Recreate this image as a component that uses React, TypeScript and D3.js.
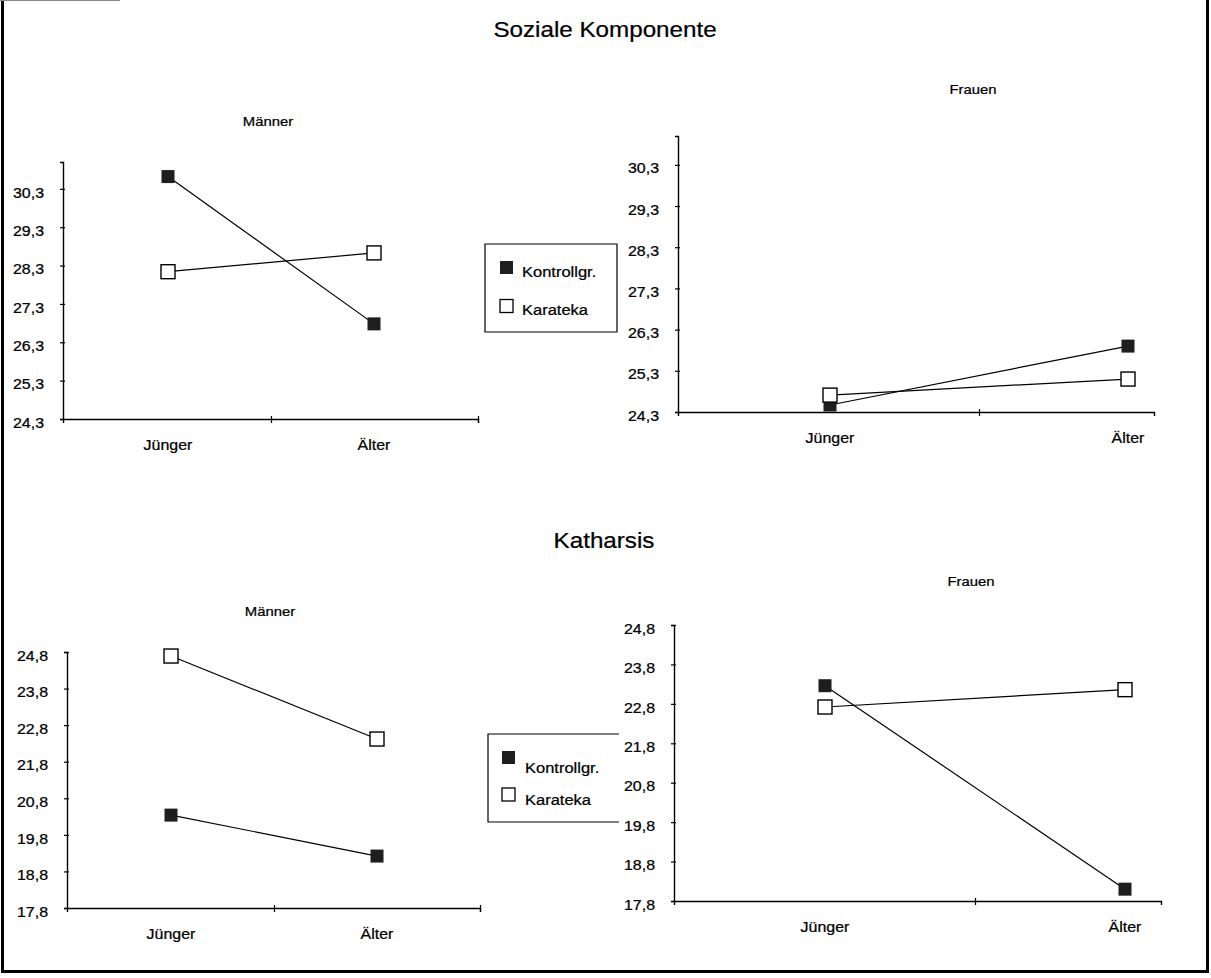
import React, { useEffect, useRef } from "react";
import * as d3 from "d3";

// categories + groups
const categories = ["Jünger", "Älter"];
const groups = ["Kontrollgr.", "Karateka"];

// tick labels of the two scales
const sozialTicks = [24.3, 25.3, 26.3, 27.3, 28.3, 29.3, 30.3];
const katharsisTicks = [17.8, 18.8, 19.8, 20.8, 21.8, 22.8, 23.8, 24.8];

// values
const sozialMaennerKontroll = [30.62, 26.78];
const sozialMaennerKarateka = [28.14, 28.63];
const sozialFrauenKontroll = [24.47, 25.9];
const sozialFrauenKarateka = [24.71, 25.1];
const katharsisMaennerKontroll = [20.34, 19.22];
const katharsisMaennerKarateka = [24.69, 22.42];
const katharsisFrauenKontroll = [23.26, 18.1];
const katharsisFrauenKarateka = [22.72, 23.16];

const SX = 1.1; // the scan is a bit wide, stretch text horizontally
const FONT = "Arial, 'Liberation Sans', sans-serif";
const INK = "#000";

const fmt = (d: number) => d.toFixed(1).replace(".", ",");

const panels = [
  {
    label: "Männer", labelX: 268, labelY: 126,
    left: 63, right: 478, c0: 168, c1: 374, top: 162, bottom: 419,
    domain: [24.3, 31.0], ticks: sozialTicks, endTick: true,
    kontroll: sozialMaennerKontroll, karateka: sozialMaennerKarateka,
  },
  {
    label: "Frauen", labelX: 973, labelY: 94,
    left: 678, right: 1154, c0: 830, c1: 1128, top: 136, bottom: 412,
    domain: [24.3, 31.0], ticks: sozialTicks, endTick: false,
    kontroll: sozialFrauenKontroll, karateka: sozialFrauenKarateka,
  },
  {
    label: "Männer", labelX: 270, labelY: 616,
    left: 67, right: 480, c0: 171, c1: 377, top: 652, bottom: 908,
    domain: [17.8, 24.8], ticks: katharsisTicks, endTick: true,
    kontroll: katharsisMaennerKontroll, karateka: katharsisMaennerKarateka,
  },
  {
    label: "Frauen", labelX: 971, labelY: 586,
    left: 674, right: 1161, c0: 825, c1: 1125, top: 625, bottom: 901,
    domain: [17.8, 24.8], ticks: katharsisTicks, endTick: false,
    kontroll: katharsisFrauenKontroll, karateka: katharsisFrauenKarateka,
  },
];

const legends = [
  { x0: 485, y0: 244, x1: 617, y1: 332, closed: true, sq: 500, tx: 522, rows: [267.5, 306], base: [277, 315] },
  { x0: 488, y0: 734, x1: 619, y1: 822, closed: false, sq: 502, tx: 525, rows: [757.5, 794.5], base: [773, 805] },
];

const App = () => {
  const svgRef = useRef<SVGSVGElement | null>(null);

  useEffect(() => {
    const svg = d3.select(svgRef.current);
    svg.selectAll("*").remove();

    const addText = (g: any, x: number, y: number, txt: string, size: number, anchor = "middle") =>
      g.append("text")
        .attr("transform", `translate(${x},${y}) scale(${SX},1)`)
        .attr("text-anchor", anchor)
        .attr("font-family", FONT)
        .attr("font-size", size)
        .attr("fill", INK)
        .attr("stroke", INK)
        .attr("stroke-width", 0.25)
        .text(txt);

    // frame
    svg.append("line").attr("x1", 2.5).attr("x2", 2.5).attr("y1", 0).attr("y2", 973)
      .attr("stroke", "#000").attr("stroke-width", 3);
    svg.append("line").attr("x1", 1207.5).attr("x2", 1207.5).attr("y1", 0).attr("y2", 973)
      .attr("stroke", "#000").attr("stroke-width", 3);
    svg.append("line").attr("x1", 1).attr("x2", 1209).attr("y1", 971.5).attr("y2", 971.5)
      .attr("stroke", "#000").attr("stroke-width", 3);
    svg.append("line").attr("x1", 0).attr("x2", 120).attr("y1", 0.5).attr("y2", 0.5)
      .attr("stroke", "#888").attr("stroke-width", 1);

    // section titles
    addText(svg, 605, 37, "Soziale Komponente", 22);
    addText(svg, 604, 548, "Katharsis", 22);

    panels.forEach((p) => {
      const g = svg.append("g");
      const y = d3.scaleLinear().domain(p.domain).range([p.bottom, p.top]);
      const x = d3.scaleLinear().domain([0, 1]).range([p.c0, p.c1]);
      const xAxisScale = d3.scaleLinear()
        .domain([x.invert(p.left), x.invert(p.right)])
        .range([p.left, p.right]);

      addText(g, p.labelX, p.labelY, p.label, 13.5);

      // y axis
      const ya = g.append("g")
        .attr("transform", `translate(${p.left},0)`)
        .call(d3.axisLeft(y).tickValues(p.ticks).tickFormat(fmt as any).tickSizeOuter(0).tickSize(3));
      ya.select(".domain").attr("stroke", INK).attr("stroke-width", 1.4);
      ya.selectAll(".tick line").attr("x1", 2).attr("x2", -3).attr("stroke", INK).attr("stroke-width", 1.2);
      ya.selectAll(".tick text")
        .attr("x", null)
        .attr("transform", `translate(-19,3.5) scale(${SX},1)`)
        .attr("font-family", FONT)
        .attr("font-size", 14.5)
        .attr("fill", INK)
        .attr("stroke", INK)
        .attr("stroke-width", 0.25);

      // x axis
      const xt = p.endTick ? [0.5, x.invert(p.right)] : [0.5];
      const xa = g.append("g")
        .attr("transform", `translate(0,${p.bottom})`)
        .call(d3.axisBottom(xAxisScale).tickValues(xt).tickFormat(() => "").tickSizeOuter(0).tickSize(4));
      xa.select(".domain").attr("stroke", INK).attr("stroke-width", 1.4);
      xa.selectAll(".tick line").attr("y1", -3).attr("y2", 4).attr("stroke", INK).attr("stroke-width", 1.2);

      categories.forEach((c, i) => addText(g, x(i), p.bottom + 31, c, 14.5));

      const line = d3.line<number>().x((_, i) => x(i)).y((d) => y(d));
      g.append("path").datum(p.kontroll).attr("d", line)
        .attr("fill", "none").attr("stroke", INK).attr("stroke-width", 1.2);
      g.append("path").datum(p.karateka).attr("d", line)
        .attr("fill", "none").attr("stroke", INK).attr("stroke-width", 1.2);

      g.selectAll(".kon").data(p.kontroll).enter().append("rect")
        .attr("x", (_, i) => x(i) - 6.5).attr("y", (d) => y(d) - 6.5)
        .attr("width", 13).attr("height", 13).attr("fill", "#1e1e1e");
      g.selectAll(".kar").data(p.karateka).enter().append("rect")
        .attr("x", (_, i) => x(i) - 7).attr("y", (d) => y(d) - 7)
        .attr("width", 14).attr("height", 14)
        .attr("fill", "#fff").attr("stroke", INK).attr("stroke-width", 1.4);
    });

    // legends
    legends.forEach((l) => {
      const g = svg.append("g");
      const d = l.closed
        ? `M${l.x0},${l.y0}H${l.x1}V${l.y1}H${l.x0}Z`
        : `M${l.x1},${l.y0}H${l.x0}V${l.y1}H${l.x1}`;
      g.append("path").attr("d", d).attr("fill", l.closed ? "#fff" : "none")
        .attr("stroke", INK).attr("stroke-width", 1.2);
      groups.forEach((name, i) => {
        const r = g.append("rect")
          .attr("x", l.sq).attr("y", l.rows[i] - 6.5)
          .attr("width", 13).attr("height", 13);
        if (i === 0) r.attr("fill", "#1e1e1e");
        else r.attr("fill", "#fff").attr("stroke", INK).attr("stroke-width", 1.3);
        addText(g, l.tx, l.base[i], name, 15, "start");
      });
    });
  }, []);

  return (
    <svg
      ref={svgRef}
      width={1211}
      height={978}
      style={{ position: "absolute", left: 0, top: 0, background: "#fff" }}
    />
  );
};

export default App;
